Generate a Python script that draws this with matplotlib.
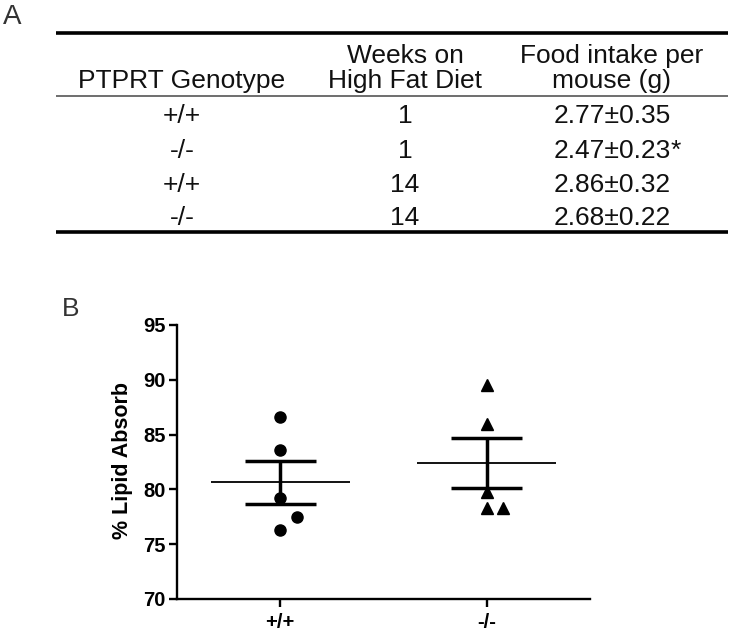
import matplotlib
matplotlib.use("Agg")
import matplotlib.pyplot as plt
import numpy as np

plt.rcParams['font.family'] = ['Liberation Sans', 'DejaVu Sans']

# table A
table_header = ['PTPRT Genotype', 'Weeks on\nHigh Fat Diet', 'Food intake per\nmouse (g)']
genotype = ['+/+', '-/-', '+/+', '-/-']
weeks = [1, 1, 14, 14]
intake_mean = [2.77, 2.47, 2.86, 2.68]
intake_sd = [0.35, 0.23, 0.32, 0.22]
intake_sig = ['', '*', '', '']

# panel B, % lipid absorbed per mouse
groups = ['+/+', '-/-']
lipid_wt = [86.6, 83.6, 79.2, 77.5, 76.3]
lipid_ko = [89.5, 86.0, 79.8, 78.3, 78.3]
# small horizontal shifts so overlapping points are visible
shift_wt = [0, 0, 0, 0.083, 0]
shift_ko = [0, 0, 0, 0, 0.078]

W, H = 732, 631
fig = plt.figure(figsize=(W / 100, H / 100), dpi=100)

# ---- table drawn in pixel coordinates
tab = fig.add_axes([0, 0, 1, 1])
tab.set_xlim(0, W)
tab.set_ylim(H, 0)
tab.axis('off')

txt_kw = dict(fontsize=19, color='#111111', ha='center')
col_x = [182, 405, 612]

tab.text(12, 17, 'A', fontsize=20, color='#333333', ha='center', va='center')
tab.plot([56, 728], [33, 33], color='black', lw=2.6, solid_capstyle='butt')
tab.plot([56, 728], [96, 96], color='#555555', lw=1.2, solid_capstyle='butt')
tab.plot([56, 728], [232, 232], color='black', lw=2.6, solid_capstyle='butt')

for x, h in zip(col_x, table_header):
    tab.text(x, 88, h, va='baseline', linespacing=1.05, **txt_kw)

row_base = [123, 158, 192, 225]
for yb, g, wk, m, sd, sig in zip(row_base, genotype, weeks, intake_mean, intake_sd, intake_sig):
    tab.text(col_x[0], yb, g, va='baseline', **txt_kw)
    tab.text(col_x[1], yb, str(wk), va='baseline', **txt_kw)
    t = tab.text(col_x[2], yb, f'{m:.2f}\u00b1{sd:.2f}', va='baseline', **txt_kw)
    if sig:
        tab.annotate(sig, xy=(1, 0), xycoords=t, xytext=(0, 0), textcoords='offset points',
                     va='bottom', ha='left', fontsize=19, color='#111111')

# ---- panel B scatter
tab.text(71, 309, 'B', fontsize=19, color='#333333', ha='center', va='center')

ax = fig.add_axes([177 / W, 1 - 599 / H, (590 - 177) / W, (599 - 325) / H])
ax.set_xlim(0.5, 2.5)
ax.set_ylim(70, 95)

for i, (vals, shift, mk) in enumerate([(lipid_wt, shift_wt, 'o'), (lipid_ko, shift_ko, '^')]):
    pos = i + 1
    vals = np.array(vals)
    ax.plot(pos + np.array(shift), vals, linestyle='none', marker=mk, color='black',
            markersize=8 if mk == 'o' else 8.5, clip_on=False, zorder=3)
    mean = vals.mean()
    sem = vals.std(ddof=1) / np.sqrt(len(vals))
    ax.hlines(mean, pos - 0.337, pos + 0.337, color='black', lw=1.3)
    ax.hlines([mean - sem, mean + sem], pos - 0.172, pos + 0.172, color='black', lw=2.5)
    ax.vlines(pos, mean - sem, mean + sem, color='black', lw=2.5)

ax.set_xticks([1, 2])
ax.set_xticklabels(groups)
ax.set_yticks(np.arange(70, 96, 5))
for s in ['top', 'right']:
    ax.spines[s].set_visible(False)
for s in ['left', 'bottom']:
    ax.spines[s].set_linewidth(1.7)
ax.tick_params(axis='both', width=1.7, length=6, labelsize=14.5, labelcolor='black')
ax.tick_params(axis='y', pad=2)
ax.tick_params(axis='x', pad=4)
for lbl in ax.get_xticklabels() + ax.get_yticklabels():
    lbl.set_fontweight('bold')
ax.set_ylabel('% Lipid Absorb', fontsize=15.5, fontweight='bold')
ax.yaxis.set_label_coords(-0.107, 0.505)

fig.savefig('out.png', dpi=100)
